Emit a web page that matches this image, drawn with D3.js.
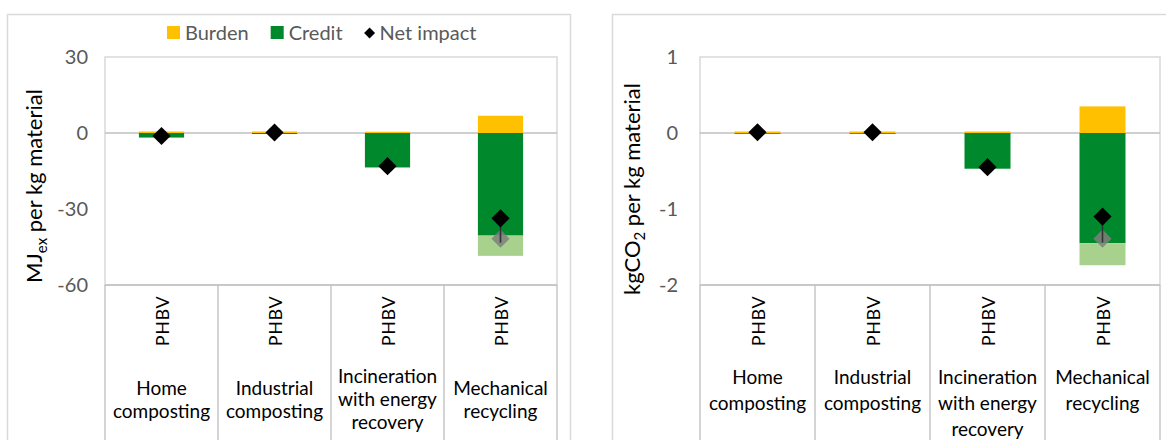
<!DOCTYPE html>
<html>
<head>
<meta charset="utf-8">
<script src="https://cdn.jsdelivr.net/npm/d3@7"></script>
<style>
  html, body { margin: 0; padding: 0; background: #fff; }
  svg { display: block; font-family: Lato, "Open Sans", sans-serif; }
</style>
</head>
<body>
<svg id="chart" width="1166" height="440"></svg>
<script>
// End-of-life routes and the material assessed
const categories = [
  ["Home", "composting"],
  ["Industrial", "composting"],
  ["Incineration", "with energy", "recovery"],
  ["Mechanical", "recycling"]
];
const material = "PHBV";

// Exergy (MJex per kg material)
const exergyTicks = [30, 0, -30, -60];
const exergyBurden = [0.6, 0.6, 0.5, 6.8];
const exergyCredit = [-1.8, -0.4, -13.6, -40.5];
const exergyCreditExtra = [0, 0, 0, -8.0];
const exergyNet = [-1.2, 0.2, -13.1, -33.7];
const exergyNetAlt = [null, null, null, -41.7];

// Carbon footprint (kgCO2 per kg material)
const carbonTicks = [1, 0, -1, -2];
const carbonBurden = [0.02, 0.02, 0.02, 0.35];
const carbonCredit = [-0.01, -0.01, -0.47, -1.45];
const carbonCreditExtra = [0, 0, 0, -0.29];
const carbonNet = [0.01, 0.01, -0.45, -1.10];
const carbonNetAlt = [null, null, null, -1.39];

const legendItems = [
  { label: "Burden", kind: "square", color: "#ffc000" },
  { label: "Credit", kind: "square", color: "#00892c" },
  { label: "Net impact", kind: "diamond", color: "#000" }
];

const COLORS = {
  burden: "#ffc000", credit: "#00892c", creditExtra: "#a9d18e",
  alt: "#7f7f7f", frame: "#d9d9d9", grid: "#bfbfbf",
  tick: "#595959", text: "#000"
};

const svg = d3.select("#chart");
const diamond = size => d3.symbol(d3.symbolSquare, size)();
// integer labels with a plain hyphen for negatives
const tickFmt = d => String(Math.round(d));

function drawPanel(cfg) {
  const g = svg.append("g");

  // outer chart frame
  g.append("rect")
    .attr("x", cfg.frame[0] + 0.5).attr("y", cfg.frame[1] + 0.5)
    .attr("width", cfg.frame[2]).attr("height", cfg.frame[3])
    .attr("fill", "none").attr("stroke", COLORS.frame).attr("stroke-width", 1.5);

  const x = d3.scaleBand().domain(d3.range(categories.length))
    .range([cfg.left, cfg.right]).padding(0);
  const y = d3.scaleLinear().domain(d3.extent(cfg.ticks)).range([cfg.bottom, cfg.top]);
  const bw = x.bandwidth() * 0.4;
  const cx = i => x(i) + x.bandwidth() / 2;

  // plot area border
  g.append("rect")
    .attr("x", cfg.left).attr("y", y(d3.max(cfg.ticks)))
    .attr("width", cfg.right - cfg.left).attr("height", y(d3.min(cfg.ticks)) - y(d3.max(cfg.ticks)))
    .attr("fill", "none").attr("stroke", COLORS.frame).attr("stroke-width", 1.5);

  // zero line
  g.append("line")
    .attr("x1", cfg.left).attr("x2", cfg.right)
    .attr("y1", y(0)).attr("y2", y(0))
    .attr("stroke", COLORS.grid).attr("stroke-width", 1.3);

  // y axis tick labels
  const yAxis = d3.axisLeft(y).tickValues(cfg.ticks).tickSize(0).tickPadding(cfg.tickPad)
    .tickFormat(tickFmt);
  const ya = g.append("g").attr("transform", `translate(${cfg.left},0)`).call(yAxis);
  ya.select(".domain").remove();
  ya.selectAll("text").attr("fill", COLORS.tick).attr("font-size", 20)
    .attr("font-family", "Lato, sans-serif");

  // category table below the plot
  const tableTop = y(d3.min(cfg.ticks));
  x.domain().concat([categories.length]).forEach(i => {
    const xx = i < categories.length ? x(i) : cfg.right;
    g.append("line").attr("x1", xx).attr("x2", xx)
      .attr("y1", tableTop).attr("y2", 450)
      .attr("stroke", COLORS.grid).attr("stroke-width", 1.3);
  });
  g.append("line").attr("x1", cfg.left).attr("x2", cfg.right)
    .attr("y1", tableTop).attr("y2", tableTop)
    .attr("stroke", COLORS.grid).attr("stroke-width", 1.3);

  categories.forEach((lines, i) => {
    g.append("text")
      .attr("transform", `translate(${cx(i) + 7},${cfg.materialY}) rotate(-90)`)
      .attr("text-anchor", "middle").attr("font-size", 18).attr("fill", COLORS.text)
      .attr("letter-spacing", 0.6)
      .text(material);
    const n = lines.length;
    const startY = cfg.labelCenter
      ? cfg.labelY - (n - 1) * cfg.lineH / 2
      : cfg.labelY;
    const t = g.append("text").attr("text-anchor", "middle")
      .attr("font-size", cfg.labelSize).attr("fill", COLORS.text);
    lines.forEach((s, k) => {
      t.append("tspan").attr("x", cx(i)).attr("y", startY + k * cfg.lineH + 7).text(s);
    });
  });

  // stacked bars: burden above zero, credit (and additional credit) below
  const bars = g.append("g");
  cfg.burden.forEach((v, i) => {
    bars.append("rect").attr("x", cx(i) - bw / 2).attr("width", bw)
      .attr("y", y(v)).attr("height", y(0) - y(v)).attr("fill", COLORS.burden);
  });
  cfg.credit.forEach((v, i) => {
    bars.append("rect").attr("x", cx(i) - bw / 2).attr("width", bw)
      .attr("y", y(0)).attr("height", y(v) - y(0)).attr("fill", COLORS.credit);
  });
  cfg.creditExtra.forEach((v, i) => {
    if (!v) return;
    const base = cfg.credit[i];
    bars.append("rect").attr("x", cx(i) - bw / 2).attr("width", bw)
      .attr("y", y(base)).attr("height", y(base + v) - y(base)).attr("fill", COLORS.creditExtra);
  });

  // alternative net impact: connector and grey diamond
  cfg.netAlt.forEach((v, i) => {
    if (v == null) return;
    g.append("path").attr("d", diamond(165))
      .attr("transform", `translate(${cx(i)},${y(v)}) rotate(45)`)
      .attr("fill", COLORS.alt).attr("fill-opacity", 0.85);
    g.append("line").attr("x1", cx(i)).attr("x2", cx(i))
      .attr("y1", y(cfg.net[i])).attr("y2", y(v) + 4)
      .attr("stroke", "#333").attr("stroke-width", 1.6);
  });

  // net impact diamonds
  cfg.net.forEach((v, i) => {
    g.append("path").attr("d", diamond(165))
      .attr("transform", `translate(${cx(i)},${y(v)}) rotate(45)`)
      .attr("fill", "#000");
  });

  // y axis title with subscript
  const title = g.append("text")
    .attr("transform", `translate(${cfg.titleX},${cfg.titleY}) rotate(-90)`)
    .attr("text-anchor", "middle").attr("font-size", 22).attr("fill", COLORS.text);
  cfg.title.forEach(part => {
    const ts = title.append("tspan").text(part.t);
    if (part.sub) ts.attr("font-size", 15).attr("dy", 5);
    else if (part.after) ts.attr("dy", -5);
  });

  return g;
}

drawPanel({
  frame: [7, 14, 563, 450],
  left: 105, right: 557, top: 57, bottom: 285,
  ticks: exergyTicks, tickPad: 17,
  burden: exergyBurden, credit: exergyCredit, creditExtra: exergyCreditExtra,
  net: exergyNet, netAlt: exergyNetAlt,
  materialY: 321, labelY: 399, lineH: 23, labelCenter: true, labelSize: 19,
  titleX: 42, titleY: 186,
  title: [{ t: "MJ" }, { t: "ex", sub: true }, { t: " per kg material", after: true }]
});

drawPanel({
  frame: [612, 14, 600, 450],
  left: 700, right: 1160, top: 57, bottom: 285,
  ticks: carbonTicks, tickPad: 22,
  burden: carbonBurden, credit: carbonCredit, creditExtra: carbonCreditExtra,
  net: carbonNet, netAlt: carbonNetAlt,
  materialY: 321, labelY: 377, lineH: 26, labelCenter: false, labelSize: 19,
  titleX: 640, titleY: 189,
  title: [{ t: "kgCO" }, { t: "2", sub: true }, { t: " per kg material", after: true }]
});

// legend across the top of the first panel
const legend = svg.append("g").attr("transform", "translate(167,33)");
let lx = 0;
legendItems.forEach(item => {
  if (item.kind === "square") {
    legend.append("rect").attr("x", lx).attr("y", -7).attr("width", 13).attr("height", 13)
      .attr("fill", item.color);
    lx += 18;
  } else {
    legend.append("path").attr("d", diamond(60))
      .attr("transform", `translate(${lx + 5},0) rotate(45)`).attr("fill", item.color);
    lx += 15;
  }
  const t = legend.append("text").attr("x", lx).attr("y", 7)
    .attr("font-size", 20).attr("fill", COLORS.tick).text(item.label);
  lx += t.node().getComputedTextLength() + 22;
});
</script>
</body>
</html>
